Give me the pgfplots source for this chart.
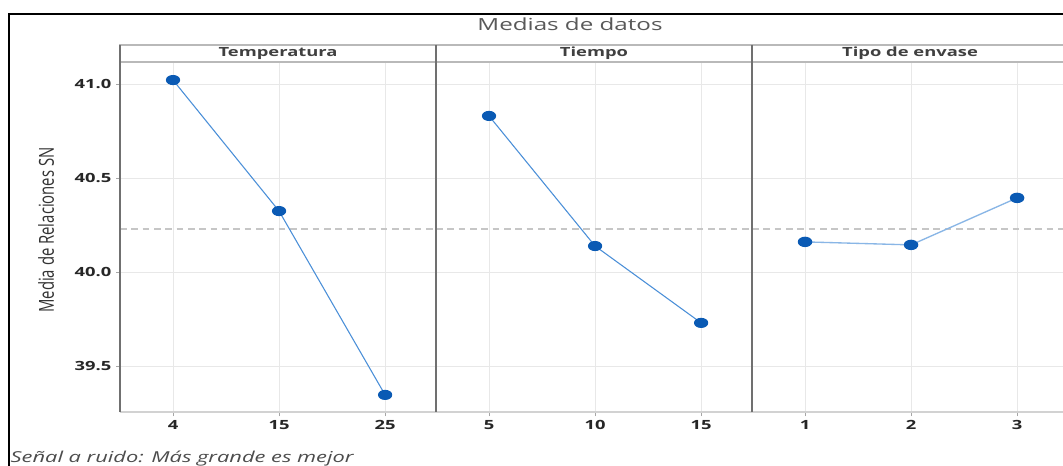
\documentclass[border=0pt]{standalone}
\usepackage{fontspec}
\setmainfont{Open Sans}
\newfontfamily\tickfont[FakeStretch=1.45]{Open Sans}
\newfontfamily\widefont[FakeStretch=1.45]{Open Sans}
\newfontfamily\condfont[FakeStretch=0.72]{Open Sans}
\usepackage{pgfplots}
\pgfplotsset{compat=1.18}
\definecolor{lineblue}{HTML}{4A8FD8}
\definecolor{markblue}{HTML}{0A5AB4}
\definecolor{divgray}{HTML}{707070}
\pgfplotsset{panel/.style={
  scale only axis, width=237pt, height=262.5pt, anchor=south west,
  xmin=-0.5, xmax=2.48, ymin=39.255, ymax=41.117,
  xtick={0,1,2}, ytick={39.5,40,40.5,41},
  grid=major, major grid style={gray!18, line width=0.6pt},
  axis x line*=bottom, axis y line*=left,
  x axis line style={gray!35, line width=1.6pt},
  y axis line style={divgray, line width=0.8pt},
  tick align=outside, major tick length=3pt,
  x tick style={gray!70, line width=0.5pt},
  xticklabel style={font=\tickfont\bfseries\fontsize{9.5}{11}\selectfont, text=black!85},
  yticklabel style={font=\tickfont\bfseries\fontsize{9.5}{11}\selectfont, text=black!85},
  /pgf/number format/assume math mode=true,
  y tick label style={/pgf/number format/.cd, fixed, fixed zerofill, precision=1},
  clip=false,
}}
\begin{document}
\begin{tikzpicture}
\useasboundingbox (0,0) rectangle (797.25pt,-349.5pt);
\clip (0,0) rectangle (797.25pt,-349.5pt);
\fill[white] (0,0) rectangle (797.25pt,-349.5pt);
% panel 1
\begin{axis}[panel, at={(90pt,-309pt)}, xticklabels={4,15,25}, y tick style={gray!70, line width=0.5pt}]
\addplot[gray!45, line width=0.9pt, dash pattern=on 5pt off 3.5pt, forget plot] coordinates {(-0.5,40.229) (2.48,40.229)};
\addplot[lineblue, line width=0.8pt, mark=*, mark size=3.4pt, mark options={fill=markblue, draw=markblue, xscale=1.45, solid}] coordinates {(0,41.021) (1,40.324) (2,39.346)};
\end{axis}
% panel 2
\begin{axis}[panel, at={(327pt,-309pt)}, xticklabels={5,10,15}, yticklabels={}, y tick style={draw=none}]
\addplot[gray!45, line width=0.9pt, dash pattern=on 5pt off 3.5pt, forget plot] coordinates {(-0.5,40.229) (2.48,40.229)};
\addplot[lineblue, line width=0.8pt, mark=*, mark size=3.4pt, mark options={fill=markblue, draw=markblue, xscale=1.45, solid}] coordinates {(0,40.830) (1,40.138) (2,39.729)};
\end{axis}
% panel 3
\begin{axis}[panel, at={(564pt,-309pt)}, xticklabels={1,2,3}, yticklabels={}, y tick style={draw=none}]
\addplot[gray!45, line width=0.9pt, dash pattern=on 5pt off 3.5pt, forget plot] coordinates {(-0.5,40.229) (2.48,40.229)};
\addplot[lineblue!65, line width=1pt, mark=*, mark size=3.4pt, mark options={fill=markblue, draw=markblue, xscale=1.45, solid}] coordinates {(0,40.160) (1,40.144) (2,40.394)};
\end{axis}
\begin{scope}[x=0.75pt,y=0.75pt]
% strip
\draw[gray!55, line width=0.8pt, fill=white] (120,-45) rectangle (1075,-62);
\draw[divgray, line width=0.8pt] (120,-45) -- (120,-412);
\draw[divgray, line width=0.8pt] (436,-45) -- (436,-412);
\draw[divgray, line width=0.8pt] (752,-45) -- (752,-412);
\node[font=\widefont\bfseries\fontsize{9.5}{11}\selectfont, text=black!75] at (278,-53.5) {Temperatura};
\node[font=\widefont\bfseries\fontsize{9.5}{11}\selectfont, text=black!75] at (594,-53.5) {Tiempo};
\node[font=\widefont\bfseries\fontsize{9.5}{11}\selectfont, text=black!75] at (910,-53.5) {Tipo de envase};
% title
\node[font=\widefont\fontsize{12.5}{14}\selectfont, text=black!65] at (570,-24) {Medias de datos};
% y label
\node[font=\condfont\fontsize{15.5}{17}\selectfont, text=black!80, rotate=90] at (46,-230) {Media de Relaciones SN};
% caption
\node[font=\widefont\itshape\fontsize{11.3}{13}\selectfont, text=black!70, anchor=base west] at (6,-462) {Señal a ruido: Más grande es mejor};
% frame
\draw[black, line width=2.2pt] (9,-14) rectangle (1085,-490);
\end{scope}
\end{tikzpicture}
\end{document}
